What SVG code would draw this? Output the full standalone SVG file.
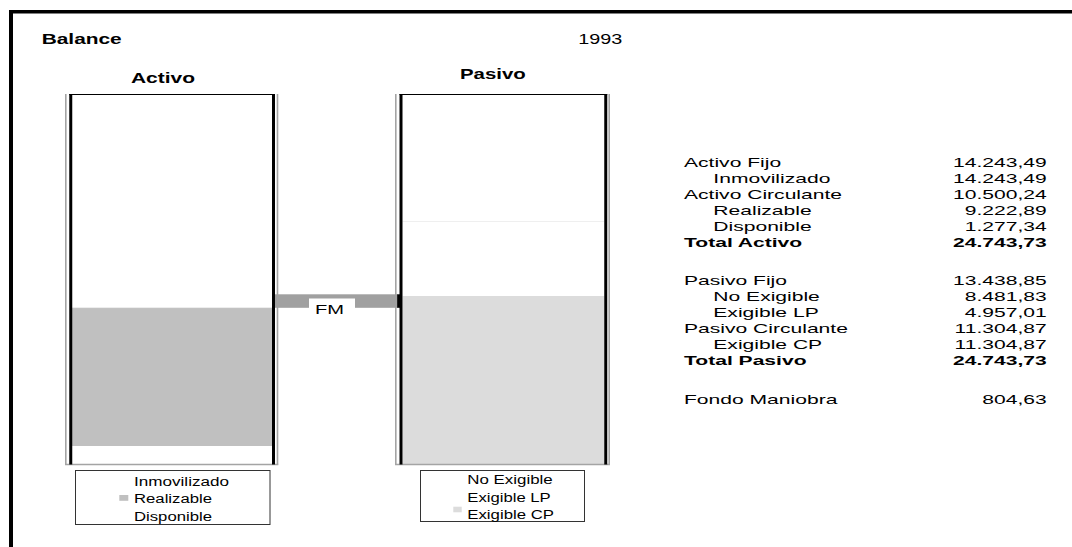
<svg xmlns="http://www.w3.org/2000/svg" width="1072" height="547" viewBox="0 0 1072 547">
  <style>
    .t { font-family: "Liberation Sans", Arial, sans-serif; fill: #000; }
    .b { font-weight: bold; }
    .title { font-size: 15px; }
    .leg { font-size: 12.5px; }
    .tab { font-size: 13px; }
    .frame { stroke: #000; fill: none; }
    .edge { stroke: #a4a4a4; stroke-width: 1.6; fill: none; }
    .wall { stroke: #000; stroke-width: 3; fill: none; }
    .cap { stroke: #000; stroke-width: 1; fill: none; }
    .box { fill: #fff; stroke: #333; stroke-width: 1; }
  </style>

  <rect x="0" y="0" width="1072" height="547" fill="#fff"/>

  <!-- outer frame, open to the right and bottom -->
  <line class="frame" x1="9" y1="11.75" x2="1072" y2="11.75" stroke-width="3.5"/>
  <line class="frame" x1="11" y1="10" x2="11" y2="547" stroke-width="4"/>

  <!-- headings -->
  <text class="t b title" x="41.7" y="44" textLength="80" lengthAdjust="spacingAndGlyphs">Balance</text>
  <text class="t title" x="578.3" y="44" textLength="44" lengthAdjust="spacingAndGlyphs">1993</text>

  <!-- Activo column -->
  <g id="activo">
    <text class="t b title" x="131" y="82.7" textLength="64" lengthAdjust="spacingAndGlyphs">Activo</text>
    <rect x="72" y="308" width="200.5" height="138" fill="#c0c0c0"/>
    <line x1="72" y1="307.6" x2="272" y2="307.6" stroke="#e6e6e6" stroke-width="0.8"/>
    <line class="edge" x1="65.8" y1="94" x2="65.8" y2="464.5"/>
    <line class="edge" x1="277.5" y1="94" x2="277.5" y2="464.5"/>
    <line class="edge" x1="65" y1="464.5" x2="278.3" y2="464.5" stroke-width="1.2"/>
    <line class="wall" x1="70.75" y1="94" x2="70.75" y2="464.5"/>
    <line class="wall" x1="273.5" y1="94" x2="273.5" y2="464.5"/>
    <line class="cap" x1="69.25" y1="94.5" x2="275" y2="94.5"/>
  </g>

  <!-- Pasivo column -->
  <g id="pasivo">
    <text class="t b title" x="460" y="79.3" textLength="65.7" lengthAdjust="spacingAndGlyphs">Pasivo</text>
    <rect x="402.5" y="296" width="201.8" height="168" fill="#dcdcdc"/>
    <line x1="402.5" y1="221.5" x2="604.3" y2="221.5" stroke="#efefef" stroke-width="1"/>
    <line class="edge" x1="395.8" y1="94" x2="395.8" y2="464.5"/>
    <line class="edge" x1="609.2" y1="94" x2="609.2" y2="464.5"/>
    <line class="edge" x1="395" y1="464.5" x2="610" y2="464.5" stroke-width="1.2"/>
    <line class="wall" x1="401" y1="94" x2="401" y2="464.5"/>
    <line class="wall" x1="605.75" y1="94" x2="605.75" y2="464.5"/>
    <line class="cap" x1="399.5" y1="94.5" x2="607.25" y2="94.5"/>
  </g>

  <!-- working capital bridge -->
  <g id="connectors">
    <rect x="275" y="294.3" width="123" height="13.5" fill="#a0a0a0"/>
    <rect x="397.2" y="294.3" width="3" height="13.5" fill="#000"/>
  </g>
  <g id="fm">
    <rect x="309" y="298.5" width="46" height="17" fill="#fff"/>
    <text class="t" x="315" y="314" font-size="12" textLength="29" lengthAdjust="spacingAndGlyphs">FM</text>
  </g>

  <!-- legends -->
  <g id="legend-activo">
    <rect class="box" x="75.5" y="470.5" width="194.5" height="54"/>
    <rect x="119.3" y="495" width="9" height="5.8" fill="#c0c0c0"/>
    <text class="t leg" x="134" y="485.7" textLength="95" lengthAdjust="spacingAndGlyphs">Inmovilizado</text>
    <text class="t leg" x="134" y="503.3" textLength="78" lengthAdjust="spacingAndGlyphs">Realizable</text>
    <text class="t leg" x="134" y="521" textLength="78" lengthAdjust="spacingAndGlyphs">Disponible</text>
  </g>
  <g id="legend-pasivo">
    <rect class="box" x="420.5" y="470.5" width="164" height="51"/>
    <rect x="453.3" y="506.7" width="8.4" height="5.6" fill="#dcdcdc"/>
    <text class="t leg" x="467.3" y="484.3" textLength="85.4" lengthAdjust="spacingAndGlyphs">No Exigible</text>
    <text class="t leg" x="467.3" y="501.7" textLength="83.4" lengthAdjust="spacingAndGlyphs">Exigible LP</text>
    <text class="t leg" x="467.3" y="519" textLength="86.7" lengthAdjust="spacingAndGlyphs">Exigible CP</text>
  </g>

  <!-- figures table, drawn with the same horizontal stretch as the chart export -->
  <g id="tabla" transform="translate(684,0) scale(1.62,1)">
    <g class="t tab">
      <text x="0" y="167.5">Activo Fijo</text>
      <text x="18.1" y="183.5">Inmovilizado</text>
      <text x="0" y="199.5">Activo Circulante</text>
      <text x="18.1" y="215.5">Realizable</text>
      <text x="18.1" y="231.5">Disponible</text>
      <text class="b" x="0" y="247.5">Total Activo</text>
      <text x="0" y="285">Pasivo Fijo</text>
      <text x="18.1" y="301">No Exigible</text>
      <text x="18.1" y="317">Exigible LP</text>
      <text x="0" y="333">Pasivo Circulante</text>
      <text x="18.1" y="349">Exigible CP</text>
      <text class="b" x="0" y="365">Total Pasivo</text>
      <text x="0" y="404">Fondo Maniobra</text>
    </g>
    <g class="t tab" text-anchor="end">
      <text x="223.9" y="167.5">14.243,49</text>
      <text x="223.9" y="183.5">14.243,49</text>
      <text x="223.9" y="199.5">10.500,24</text>
      <text x="223.9" y="215.5">9.222,89</text>
      <text x="223.9" y="231.5">1.277,34</text>
      <text class="b" x="223.9" y="247.5">24.743,73</text>
      <text x="223.9" y="285">13.438,85</text>
      <text x="223.9" y="301">8.481,83</text>
      <text x="223.9" y="317">4.957,01</text>
      <text x="223.9" y="333">11.304,87</text>
      <text x="223.9" y="349">11.304,87</text>
      <text class="b" x="223.9" y="365">24.743,73</text>
      <text x="223.9" y="404">804,63</text>
    </g>
  </g>
</svg>
